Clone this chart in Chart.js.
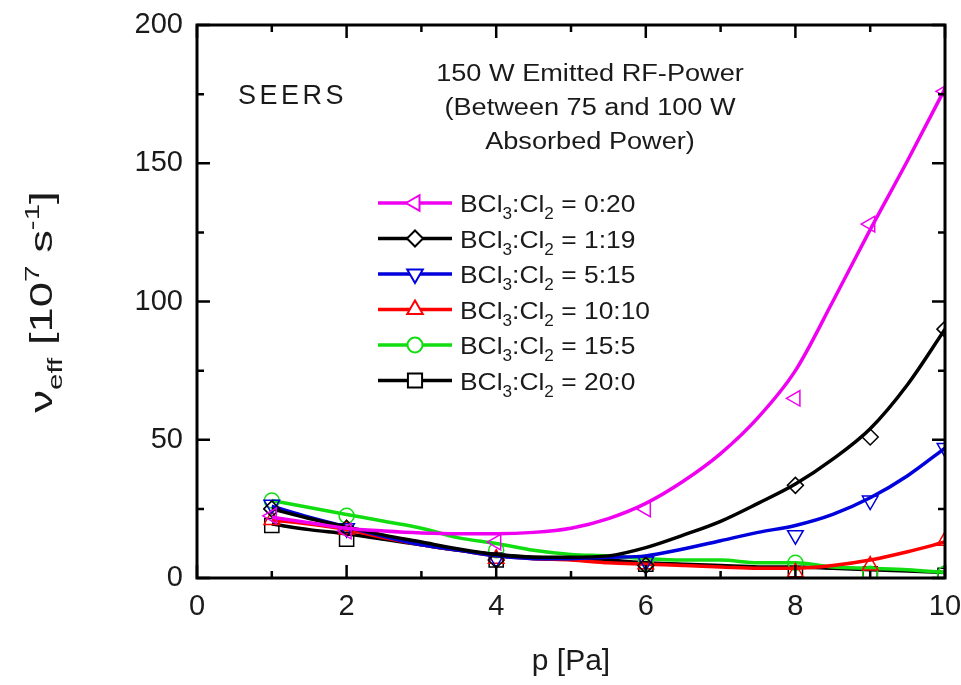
<!DOCTYPE html>
<html>
<head>
<meta charset="utf-8">
<title>SEERS collision frequency</title>
<script src="https://cdn.jsdelivr.net/npm/chart.js@4.4.1/dist/chart.umd.min.js"></script>
<style>
  html, body { margin: 0; padding: 0; background: #fff; }
</style>
</head>
<body>
<canvas id="nu-chart" width="961" height="685"></canvas>
<script>
// pressures where measurements were taken (markers)
const pressures = [1, 2, 4, 6, 8, 9, 10];
const curvePressures = [1, 1.5, 2, 2.5, 3, 3.5, 4, 4.5, 5, 5.5, 6, 6.5, 7, 7.5, 8, 8.5, 9, 9.5, 10];

const xTicks = [0, 2, 4, 6, 8, 10];
const yTicks = [0, 50, 100, 150, 200];

const ratios = ['0:20', '1:19', '5:15', '10:10', '15:5', '20:0'];

// measured nu_eff [1e7 1/s]
const points0_20 = [22.5, 17, 13, 25, 65, 128, 176];
const points1_19 = [25, 18, 6.5, 4.5, 33.5, 51, 90];
const points5_15 = [26.5, 18, 7, 6, 15.5, 28, 47];
const points10_10 = [21, 17.5, 7, 5, 2, 4.5, 13.5];
const points15_5 = [28, 22.5, 10, 5.5, 5.5, 1.5, 1.5];
const points20_0 = [19, 14, 6.5, 5, 3, 1.5, 1];

// fitted curves
const curve0_20 = [22, 20, 18, 17, 16.3, 16, 16, 16.5, 18, 21.5, 27, 35, 45, 58, 75, 100, 126, 151, 177];
const curve1_19 = [25, 21.5, 18.5, 15.5, 13, 10.5, 8.5, 7.5, 7.5, 8, 11, 15.5, 20.5, 27, 34, 43, 54, 70, 90];
const curve5_15 = [26, 22, 18.5, 15, 12, 10, 8, 7, 7, 7.5, 8, 10.5, 13.5, 16.5, 19, 23, 29, 37, 47];
const curve10_10 = [21, 19.5, 17.5, 14.5, 12, 10, 8, 7, 6.5, 5.5, 5, 4.5, 4, 3.5, 3.5, 4.5, 6.5, 9.5, 13];
const curve15_5 = [28, 25.5, 23, 20.5, 18, 14.5, 12.5, 10, 8.5, 8, 7, 6.5, 6.5, 5.5, 5.5, 4, 3.5, 3, 2];
const curve20_0 = [19.5, 17.5, 16, 14, 12, 10, 8.5, 7.5, 7, 6.5, 5.5, 5, 4.5, 4, 4, 3.5, 3, 2.5, 2];

const FONT = "'Liberation Sans', Arial, sans-serif";

const series = [
  { label: ratios[0], color: '#f000f0', pts: points0_20, curve: curve0_20, style: 'triangle', rot: 270, r: 9 },
  { label: ratios[1], color: '#000000', pts: points1_19, curve: curve1_19, style: 'rectRot', rot: 0, r: 8 },
  { label: ratios[2], color: '#0000dd', pts: points5_15, curve: curve5_15, style: 'triangle', rot: 180, r: 9 },
  { label: ratios[3], color: '#ff0000', pts: points10_10, curve: curve10_10, style: 'triangle', rot: 0, r: 9 },
  { label: ratios[4], color: '#11dd11', pts: points15_5, curve: curve15_5, style: 'circle', rot: 0, r: 7.5 },
  { label: ratios[5], color: '#000000', pts: points20_0, curve: curve20_0, style: 'rect', rot: 0, r: 10 }
];

const datasets = [];
series.forEach(s => {
  datasets.push({
    label: s.label + ' fit',
    data: curvePressures.map((p, i) => ({ x: p, y: s.curve[i] })),
    borderColor: s.color,
    borderWidth: 3.5,
    cubicInterpolationMode: 'monotone',
    pointRadius: 0,
    fill: false
  });
  datasets.push({
    label: s.label,
    data: pressures.map((p, i) => ({ x: p, y: s.pts[i] })),
    showLine: false,
    borderColor: s.color,
    pointStyle: s.style,
    pointRotation: s.rot,
    pointRadius: s.r,
    pointBorderColor: s.color,
    pointBackgroundColor: 'rgba(255,255,255,0)',
    pointBorderWidth: 1.5
  });
});

// text with sub/superscripts: parts = [text, shift] where shift 1 = sub, -1 = sup
function richText(ctx, parts, x, y, size, align, sx) {
  ctx.save();
  ctx.translate(x, y);
  ctx.scale(sx || 1, 1);
  const widths = parts.map(p => {
    ctx.font = (p[1] ? size * 0.65 : size) + 'px ' + FONT;
    return ctx.measureText(p[0]).width;
  });
  const total = widths.reduce((a, b) => a + b, 0);
  let cx = align === 'center' ? -total / 2 : 0;
  ctx.textAlign = 'left';
  ctx.textBaseline = 'alphabetic';
  parts.forEach((p, i) => {
    ctx.font = (p[1] ? size * 0.65 : size) + 'px ' + FONT;
    const dy = p[1] === 1 ? size * 0.3 : p[1] === -1 ? -size * 0.42 : 0;
    ctx.fillText(p[0], cx, dy);
    cx += widths[i];
  });
  ctx.restore();
}

const framePlugin = {
  id: 'frame',
  afterDatasetsDraw(chart) {
    const { ctx, chartArea: a, scales } = chart;
    ctx.save();
    ctx.strokeStyle = '#000';
    ctx.lineWidth = 3;
    ctx.strokeRect(a.left, a.top, a.right - a.left, a.bottom - a.top);
    ctx.lineWidth = 2.5;
    ctx.beginPath();
    for (let v = 0; v <= 10; v++) {
      const px = scales.x.getPixelForValue(v);
      const len = v % 2 === 0 ? 13 : 7;
      ctx.moveTo(px, a.bottom); ctx.lineTo(px, a.bottom - len);
      ctx.moveTo(px, a.top); ctx.lineTo(px, a.top + len);
    }
    for (let v = 0; v <= 200; v += 25) {
      const py = scales.y.getPixelForValue(v);
      const len = v % 50 === 0 ? 13 : 7;
      ctx.moveTo(a.left, py); ctx.lineTo(a.left + len, py);
      ctx.moveTo(a.right, py); ctx.lineTo(a.right - len, py);
    }
    ctx.stroke();
    ctx.restore();
  }
};

const textPlugin = {
  id: 'texts',
  afterDraw(chart) {
    const ctx = chart.ctx;
    const a = chart.chartArea;
    ctx.save();
    ctx.fillStyle = '#1a1a1a';

    // axis titles
    richText(ctx, [['p [Pa]', 0]], (a.left + a.right) / 2, 670, 30, 'center', 1);
    ctx.save();
    ctx.translate(52, 302);
    ctx.rotate(-Math.PI / 2);
    richText(ctx, [['\u03bd', 0], ['eff', 1], [' [10', 0], ['7', -1], [' s', 0], ['-1', -1], [']', 0]], 0, 0, 32, 'center', 1.42);
    ctx.restore();

    // annotation
    ctx.save();
    ctx.font = '27px ' + FONT;
    ctx.letterSpacing = '3.5px';
    ctx.textAlign = 'left';
    ctx.fillText('SEERS', 238, 104);
    ctx.restore();
    richText(ctx, [['150 W Emitted RF-Power', 0]], 590, 81, 23, 'center', 1.18);
    richText(ctx, [['(Between 75 and 100 W', 0]], 590, 115, 23, 'center', 1.18);
    richText(ctx, [['Absorbed Power)', 0]], 590, 149, 23, 'center', 1.18);

    // legend
    series.forEach((s, i) => {
      const y = 203 + i * 35.5;
      ctx.save();
      ctx.strokeStyle = s.color;
      ctx.lineWidth = 3.5;
      ctx.beginPath();
      ctx.moveTo(378, y); ctx.lineTo(452, y);
      ctx.stroke();
      ctx.fillStyle = '#fff';
      ctx.lineWidth = 2;
      Chart.helpers.drawPoint(ctx, { pointStyle: s.style, rotation: s.rot, radius: s.r, borderWidth: 2 }, 415, y);
      ctx.restore();
      richText(ctx, [['BCl', 0], ['3', 1], [':Cl', 0], ['2', 1], [' = ' + s.label, 0]], 460, y + 9, 24, 'left', 1.1);
    });
    ctx.restore();
  }
};

new Chart(document.getElementById('nu-chart'), {
  type: 'line',
  data: { datasets: datasets },
  options: {
    responsive: false,
    animation: false,
    layout: { padding: { top: 25, right: 16, left: 0, bottom: 0 } },
    plugins: { legend: { display: false }, tooltip: { enabled: false } },
    scales: {
      x: {
        type: 'linear', min: 0, max: 10,
        afterBuildTicks: scale => { scale.ticks = xTicks.map(v => ({ value: v })); },
        afterFit: scale => { scale.height = 107; scale.paddingLeft = 0; scale.paddingRight = 0; },
        grid: { display: false, drawTicks: false },
        border: { display: false },
        ticks: { color: '#1a1a1a', font: { family: FONT, size: 29 }, padding: 12, maxRotation: 0 }
      },
      y: {
        type: 'linear', min: 0, max: 200,
        afterBuildTicks: scale => { scale.ticks = yTicks.map(v => ({ value: v })); },
        afterFit: scale => { scale.width = 197; scale.paddingTop = 0; scale.paddingBottom = 0; },
        grid: { display: false, drawTicks: false },
        border: { display: false },
        ticks: { color: '#1a1a1a', font: { family: FONT, size: 29 }, padding: 14 }
      }
    }
  },
  plugins: [framePlugin, textPlugin]
});
</script>
</body>
</html>
